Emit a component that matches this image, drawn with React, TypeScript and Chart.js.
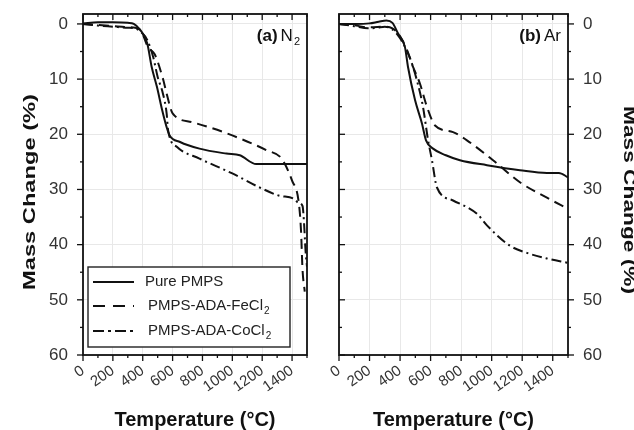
import React, { useEffect, useRef } from 'react';
import { Chart, registerables } from 'chart.js';

Chart.register(...registerables);

// ---------- Data (temperature in °C, mass change in %) ----------
const N2_PURE_T = [0, 100, 200, 300, 340, 380, 430, 460, 495, 530, 560, 580, 650, 780, 960, 1050, 1160, 1300, 1500];
const N2_PURE_M = [-0.1, -0.3, -0.3, -0.2, 0, 1.0, 3.5, 7.8, 11.4, 15.6, 18.7, 20.2, 21.4, 22.6, 23.5, 23.8, 25.4, 25.4, 25.4];

const N2_FE_T = [0, 100, 200, 300, 350, 390, 435, 480, 535, 560, 600, 730, 960, 1230, 1330, 1400, 1445, 1460, 1470, 1485];
const N2_FE_M = [0, 0.2, 0.4, 0.6, 0.7, 1.3, 4.2, 5.5, 9.9, 12.6, 16.2, 17.8, 19.8, 22.9, 24.4, 28.4, 32.4, 37.5, 44.5, 48.5];

const N2_CO_T = [0, 100, 200, 300, 350, 390, 430, 470, 500, 535, 560, 570, 630, 780, 1000, 1180, 1310, 1420, 1440, 1470, 1480, 1490, 1500];
const N2_CO_M = [0, 0.3, 0.5, 0.7, 0.8, 1.5, 2.9, 6, 9.6, 12.6, 16.2, 19.3, 22.3, 24.4, 27.1, 29.6, 31.1, 31.8, 32.4, 33, 36, 41, 44];

const AR_PURE_T = [0, 100, 200, 260, 310, 350, 386, 432, 452, 498, 543, 570, 616, 700, 792, 969, 1185, 1362, 1440, 1500];
const AR_PURE_M = [0, 0, -0.1, -0.4, -0.6, -0.2, 1.7, 4.2, 7.8, 13.8, 18, 21.1, 22.6, 23.8, 24.7, 25.6, 26.5, 27, 27, 27.8];

const AR_FE_T = [0, 100, 150, 200, 300, 350, 380, 445, 485, 530, 576, 629, 747, 838, 1009, 1185, 1362, 1500];
const AR_FE_M = [0, 0.2, 0.5, 0.6, 0.5, 0.8, 1.5, 4.7, 7.8, 10.8, 15, 18.4, 19.6, 21.1, 24.7, 28.7, 31.5, 33.5];

const AR_CO_T = [0, 100, 190, 250, 300, 350, 400, 465, 510, 550, 583, 609, 641, 747, 904, 969, 1120, 1231, 1362, 1500];
const AR_CO_M = [0, 0.4, 0.8, 0.7, 0.5, 1.0, 2.6, 6.2, 10.2, 15, 21, 24.7, 29.6, 32, 34.4, 36.5, 40.2, 41.5, 42.5, 43.3];

const SERIES_NAMES = ['Pure PMPS', 'PMPS-ADA-FeCl', 'PMPS-ADA-CoCl'];
const SERIES_SUBS = ['', '2', '2'];

const X_MAJOR = [0, 200, 400, 600, 800, 1000, 1200, 1400];
const X_MINOR = [100, 300, 500, 700, 900, 1100, 1300, 1500];
const Y_MAJOR = [0, 10, 20, 30, 40, 50, 60];
const Y_MINOR = [5, 15, 25, 35, 45, 55];

const X_TITLE = 'Temperature (°C)';
const Y_TITLE = 'Mass Change (%)';

// ---------- Styles ----------
const DASHES: number[][] = [[], [10, 6], [10, 4, 2, 4]];
const LINE_COLOR = '#111';
const FONT = '"Liberation Sans", Arial, Helvetica, sans-serif';

const pts = (t: number[], m: number[]) => t.map((x, i) => ({ x, y: m[i] }));

type Side = 'in' | 'out' | null;
type PanelCfg = {
  pageLeft: number;
  width: number;
  pad: { left: number; right: number; top: number; bottom: number };
  yPos: 'left' | 'right';
  yWidth: number;
  sides: { left: Side; right: Side; top: Side; bottom: Side };
  tag: string;
  gas: string;
  gasSub: string;
  legend: boolean;
  yTitle: { x: number; y: number; rot: number; len: number };
  series: { x: number; y: number }[][];
};

const PANELS: PanelCfg[] = [
  {
    pageLeft: 0,
    width: 320,
    pad: { left: 0, right: 13, top: 14, bottom: 0 },
    yPos: 'left',
    yWidth: 83,
    sides: { left: 'out', right: null, top: 'in', bottom: 'out' },
    tag: '(a)',
    gas: 'N',
    gasSub: '2',
    legend: true,
    yTitle: { x: 35, y: 192, rot: -Math.PI / 2, len: 196 },
    series: [pts(N2_PURE_T, N2_PURE_M), pts(N2_FE_T, N2_FE_M), pts(N2_CO_T, N2_CO_M)],
  },
  {
    pageLeft: 320,
    width: 314,
    pad: { left: 19, right: 0, top: 14, bottom: 0 },
    yPos: 'right',
    yWidth: 66,
    sides: { left: 'in', right: 'out', top: 'in', bottom: 'out' },
    tag: '(b)',
    gas: 'Ar',
    gasSub: '',
    legend: false,
    yTitle: { x: 304, y: 200, rot: Math.PI / 2, len: 188 },
    series: [pts(AR_PURE_T, AR_PURE_M), pts(AR_FE_T, AR_FE_M), pts(AR_CO_T, AR_CO_M)],
  },
];

function makeDecor(cfg: PanelCfg) {
  return {
    id: 'decor',
    afterDraw(chart: any) {
      const ctx: CanvasRenderingContext2D = chart.ctx;
      const { left, right, top, bottom } = chart.chartArea;
      const xs = chart.scales.x;
      const ys = chart.scales.y;
      ctx.save();
      ctx.strokeStyle = LINE_COLOR;
      ctx.lineWidth = 1.3;
      ctx.setLineDash([]);
      const seg = (x1: number, y1: number, x2: number, y2: number) => {
        ctx.beginPath();
        ctx.moveTo(x1, y1);
        ctx.lineTo(x2, y2);
        ctx.stroke();
      };
      const hTicks = (yEdge: number, dir: number) => {
        X_MAJOR.forEach((v) => { const p = xs.getPixelForValue(v); seg(p, yEdge, p, yEdge + dir * 6); });
        X_MINOR.forEach((v) => { const p = xs.getPixelForValue(v); seg(p, yEdge, p, yEdge + dir * 3); });
      };
      const vTicks = (xEdge: number, dir: number) => {
        Y_MAJOR.forEach((v) => { const p = ys.getPixelForValue(v); seg(xEdge, p, xEdge + dir * 6, p); });
        Y_MINOR.forEach((v) => { const p = ys.getPixelForValue(v); seg(xEdge, p, xEdge + dir * 3, p); });
      };
      const s = cfg.sides;
      if (s.top) hTicks(top, s.top === 'in' ? 1 : -1);
      if (s.bottom) hTicks(bottom, s.bottom === 'in' ? -1 : 1);
      if (s.left) vTicks(left, s.left === 'in' ? 1 : -1);
      if (s.right) vTicks(right, s.right === 'in' ? -1 : 1);

      // frame
      ctx.lineWidth = 1.8;
      ctx.strokeRect(left, top, right - left, bottom - top);

      // panel tag
      ctx.fillStyle = '#111';
      ctx.textBaseline = 'alphabetic';
      ctx.textAlign = 'left';
      ctx.font = `bold 17px ${FONT}`;
      const wTag = ctx.measureText(cfg.tag).width;
      ctx.font = `17px ${FONT}`;
      const wGas = ctx.measureText(cfg.gas).width;
      ctx.font = `11px ${FONT}`;
      const wSub = cfg.gasSub ? ctx.measureText(cfg.gasSub).width + 1 : 0;
      const total = wTag + 3 + wGas + wSub;
      let tx = right - 7 - total;
      const ty = top + 27;
      ctx.font = `bold 17px ${FONT}`;
      ctx.fillText(cfg.tag, tx, ty);
      tx += wTag + 3;
      ctx.font = `17px ${FONT}`;
      ctx.fillText(cfg.gas, tx, ty);
      tx += wGas + 1;
      if (cfg.gasSub) {
        ctx.font = `11px ${FONT}`;
        ctx.fillText(cfg.gasSub, tx, ty + 4);
      }

      // legend
      if (cfg.legend) {
        const bx = left + 5;
        const by = bottom - 88;
        const bw = 202;
        const bh = 80;
        ctx.fillStyle = '#fff';
        ctx.fillRect(bx, by, bw, bh);
        ctx.lineWidth = 1.4;
        ctx.strokeStyle = '#222';
        ctx.strokeRect(bx, by, bw, bh);
        const rows = [15, 39, 64];
        SERIES_NAMES.forEach((name, i) => {
          const ry = by + rows[i];
          ctx.strokeStyle = LINE_COLOR;
          ctx.lineWidth = 2;
          ctx.setLineDash(DASHES[i].length ? (i === 1 ? [12, 8] : [11, 4, 3, 4]) : []);
          seg(bx + 5, ry, bx + 46, ry);
          ctx.setLineDash([]);
          ctx.fillStyle = '#222';
          ctx.font = `15px ${FONT}`;
          ctx.textBaseline = 'middle';
          const textX = bx + (i === 0 ? 57 : 60);
          ctx.fillText(name, textX, ry);
          if (SERIES_SUBS[i]) {
            const w = ctx.measureText(name).width;
            ctx.font = `10px ${FONT}`;
            ctx.fillText(SERIES_SUBS[i], textX + w + 1, ry + 5);
          }
        });
      }

      // y title (stretched along its length)
      ctx.fillStyle = '#111';
      ctx.font = `bold 16px ${FONT}`;
      ctx.textAlign = 'center';
      ctx.textBaseline = 'alphabetic';
      const w = ctx.measureText(Y_TITLE).width;
      ctx.translate(cfg.yTitle.x, cfg.yTitle.y);
      ctx.rotate(cfg.yTitle.rot);
      ctx.scale(cfg.yTitle.len / w, 1);
      ctx.fillText(Y_TITLE, 0, 0);
      ctx.restore();
    },
  };
}

function Panel({ cfg }: { cfg: PanelCfg }) {
  const ref = useRef<HTMLCanvasElement | null>(null);
  useEffect(() => {
    if (!ref.current) return;
    const chart = new Chart(ref.current, {
      type: 'line',
      data: {
        datasets: cfg.series.map((data, i) => ({
          label: SERIES_NAMES[i] + SERIES_SUBS[i],
          data,
          borderColor: LINE_COLOR,
          borderWidth: 2,
          borderDash: DASHES[i],
          pointRadius: 0,
          fill: false,
          cubicInterpolationMode: 'monotone' as const,
        })),
      },
      options: {
        animation: false,
        responsive: false,
        maintainAspectRatio: false,
        layout: { padding: cfg.pad },
        plugins: { legend: { display: false }, tooltip: { enabled: false } },
        scales: {
          x: {
            type: 'linear',
            min: 0,
            max: 1500,
            ticks: {
              stepSize: 200,
              includeBounds: false,
              autoSkip: false,
              minRotation: 35,
              maxRotation: 35,
              padding: 7,
              color: '#333',
              font: { family: FONT, size: 15 },
              callback: (v: any) => String(v),
            },
            grid: { color: '#e8e8e8', drawTicks: false, lineWidth: 1 },
            border: { display: false },
            title: {
              display: true,
              text: X_TITLE,
              color: '#111',
              font: { family: FONT, size: 20, weight: 'bold', lineHeight: 1.0 },
              padding: { top: 0, bottom: 0 },
            },
            afterFit: (s: any) => {
              s.height = 75;
              s.paddingLeft = 0;
              s.paddingRight = 0;
            },
          },
          y: {
            type: 'linear',
            position: cfg.yPos,
            reverse: true,
            min: -1.8,
            max: 60,
            ticks: {
              stepSize: 10,
              includeBounds: false,
              padding: 15,
              color: '#333',
              font: { family: FONT, size: 17 },
            },
            grid: { color: '#e8e8e8', drawTicks: false, lineWidth: 1 },
            border: { display: false },
            title: { display: false },
            afterFit: (s: any) => {
              s.width = cfg.yWidth;
              s.paddingTop = 0;
              s.paddingBottom = 0;
            },
          },
        },
      } as any,
      plugins: [makeDecor(cfg)],
    });
    return () => chart.destroy();
  }, [cfg]);
  return (
    <canvas
      ref={ref}
      width={cfg.width}
      height={430}
      style={{ position: 'absolute', left: cfg.pageLeft, top: 0, width: cfg.width, height: 430, display: 'block' }}
    />
  );
}

export default function App() {
  return (
    <div style={{ position: 'fixed', left: 0, top: 0, width: 634, height: 430, background: '#fff', overflow: 'hidden' }}>
      {PANELS.map((p, i) => (
        <Panel key={i} cfg={p} />
      ))}
    </div>
  );
}
